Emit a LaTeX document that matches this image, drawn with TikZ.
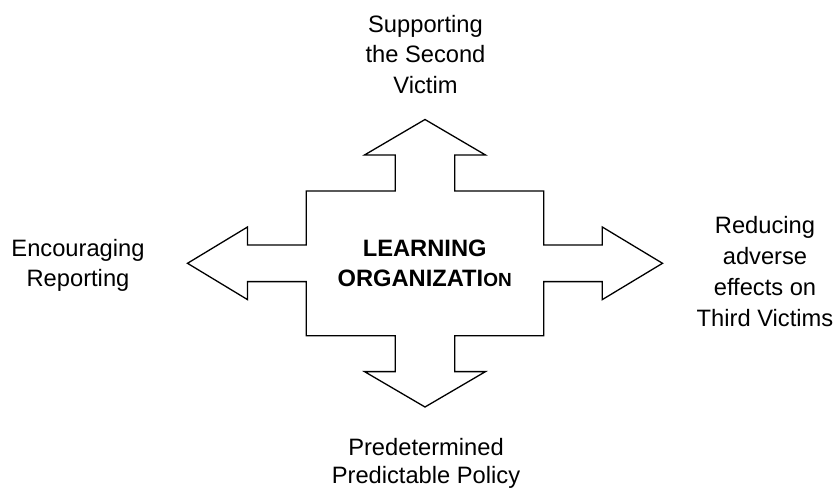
\documentclass[tikz,border=0pt]{standalone}
\usepackage{fontspec}
\setmainfont{Liberation Sans}
\begin{document}
\begin{tikzpicture}[x=1pt, y=-1pt,
    lbl/.style={align=center, inner sep=0pt, anchor=base, font=\fontsize{23.7}{30}\selectfont}]
        \useasboundingbox (0,0) rectangle (838,489);

        % four-way arrow
        \draw[line width=1.3pt, line join=miter, fill=white]
            (425,119.5) -- (485.5,155) -- (454.7,155) -- (454.7,191) -- (543.7,191)
            -- (543.7,245) -- (602.3,245) -- (602.3,227) -- (662.5,263.3)
            -- (602.3,299.6) -- (602.3,281.6) -- (543.7,281.6) -- (543.7,335.7)
            -- (454.7,335.7) -- (454.7,371.6) -- (485.5,371.6) -- (425,407)
            -- (364.5,371.6) -- (395.3,371.6) -- (395.3,335.7) -- (306.3,335.7)
            -- (306.3,281.6) -- (247.5,281.6) -- (247.5,299.6) -- (187.5,263.3)
            -- (247.5,227) -- (247.5,245) -- (306.3,245) -- (306.3,191)
            -- (395.3,191) -- (395.3,155) -- (364.5,155) -- cycle;

        % labels (base = last line)
        \node[lbl, font=\fontsize{23.7}{29.3}\selectfont\bfseries] (learn) at (424.7,286)
            {LEARNING\\ORGANIZATI{\fontsize{19}{29.3}\selectfont ON}};

        \node[lbl, font=\fontsize{23.7}{30.6}\selectfont] (support) at (425.5,93.3) {Supporting\\the Second\\Victim};
        \node[lbl] (report) at (78,286.7) {Encouraging\\Reporting};
        \node[lbl, font=\fontsize{23.7}{31}\selectfont] (reduce) at (765,326) {Reducing\\adverse\\effects on\\Third Victims};
        \node[lbl, font=\fontsize{23.7}{28.3}\selectfont] (policy) at (426,483.3) {Predetermined\\Predictable Policy};
    \end{tikzpicture}
\end{document}
